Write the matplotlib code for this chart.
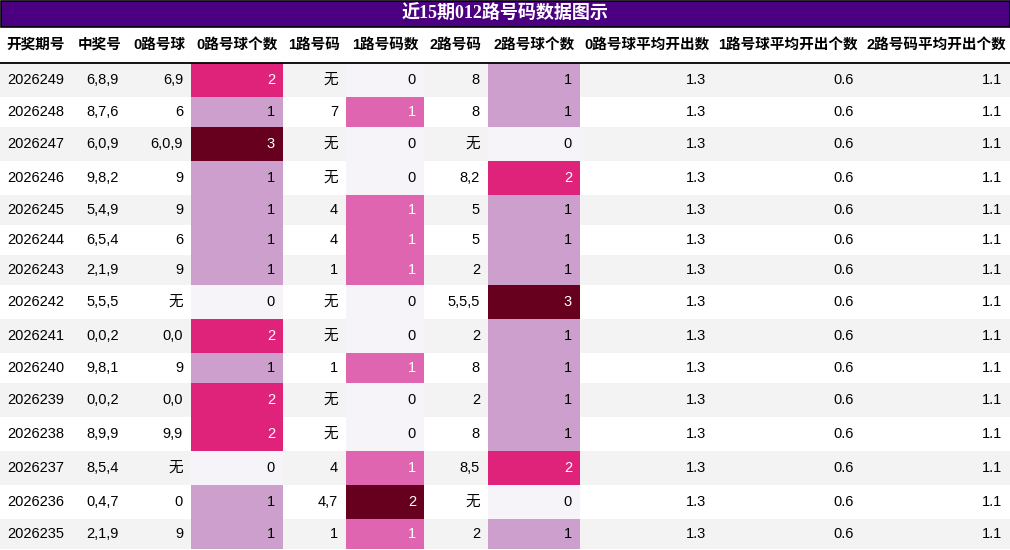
import matplotlib
matplotlib.use("Agg")
import matplotlib.pyplot as plt
from matplotlib.patches import Rectangle

plt.rcParams['font.family'] = ['Liberation Sans', 'Noto Sans CJK SC', 'DejaVu Sans']

title = "近15期012路号码数据图示"
headers = ["开奖期号","中奖号","0路号球","0路号球个数","1路号码","1路号码数","2路号码","2路号球个数","0路号球平均开出数","1路号球平均开出个数","2路号码平均开出个数"]
periods = ["2026249","2026248","2026247","2026246","2026245","2026244","2026243","2026242","2026241","2026240","2026239","2026238","2026237","2026236","2026235"]
winning = ["6,8,9","8,7,6","6,0,9","9,8,2","5,4,9","6,5,4","2,1,9","5,5,5","0,0,2","9,8,1","0,0,2","8,9,9","8,5,4","0,4,7","2,1,9"]
road0 = ["6,9","6","6,0,9","9","9","6","9","无","0,0","9","0,0","9,9","无","0","9"]
cnt0 = [2,1,3,1,1,1,1,0,2,1,2,2,0,1,1]
road1 = ["无","7","无","无","4","4","1","无","无","1","无","无","4","4,7","1"]
cnt1 = [0,1,0,0,1,1,1,0,0,1,0,0,1,2,1]
road2 = ["8","8","无","8,2","5","5","2","5,5,5","2","8","2","8","8,5","无","2"]
cnt2 = [1,1,0,2,1,1,1,3,1,1,1,1,2,0,1]
avg0 = ["1.3"]*15
avg1 = ["0.6"]*15
avg2 = ["1.1"]*15

W, H = 1010, 550
fig = plt.figure(figsize=(W/100, H/100), dpi=100)
ax = fig.add_axes([0, 0, 1, 1])
ax.set_xlim(0, W); ax.set_ylim(H, 0); ax.axis('off')

colx = [0, 72, 127, 191, 283, 346, 424, 488, 580, 714, 862, 1010]
row_h = [34 if ("无" in (road0[i] + road1[i] + road2[i])) else 30 for i in range(15)]

# title
ax.add_patch(Rectangle((0.5, 0.5), W-1, 26, facecolor='#4B0082', edgecolor='black', lw=1.2))
ax.text(W/2, 14, title, color='white', ha='center', va='center', fontsize=13, fontweight='bold',
        family=['Liberation Serif', 'Noto Sans CJK SC'])
# headers
for j, h in enumerate(headers):
    ax.text((colx[j]+colx[j+1])/2, 45, h, ha='center', va='center', fontsize=10.5, fontweight='bold')
ax.plot([0, W], [62.5, 62.5], color='black', lw=1.3)

def color_for(v, mx):
    f = v / mx
    if f == 0: return '#F7F4F9', 'black'
    if mx == 3:
        return {1: ('#CD9FCC', 'black'), 2: ('#E0237A', 'white'), 3: ('#67001F', 'white')}[v]
    if mx == 2:
        return {1: ('#DF65B0', 'white'), 2: ('#67001F', 'white')}[v]
    return '#CD9FCC', 'black'

cols = [periods, winning, road0, cnt0, road1, cnt1, road2, cnt2, avg0, avg1, avg2]
y = 63
for i in range(15):
    h = row_h[i]
    bg = '#F3F3F3' if i % 2 == 0 else 'white'
    ax.add_patch(Rectangle((0, y), W, h, facecolor=bg, edgecolor='none'))
    for j, col in enumerate(cols):
        txtc = 'black'
        if j in (3, 5, 7):
            vals = col
            fc, txtc = color_for(vals[i], max(vals))
            ax.add_patch(Rectangle((colx[j], y), colx[j+1]-colx[j], h, facecolor=fc, edgecolor='none'))
        s = str(col[i])
        if j == 0:
            ax.text((colx[0]+colx[1])/2, y+h/2, s, ha='center', va='center', fontsize=10.5, color=txtc)
        else:
            ax.text(colx[j+1]-8, y+h/2, s, ha='right', va='center', fontsize=10.5, color=txtc)
    y += h

fig.savefig("out.png", dpi=100)
